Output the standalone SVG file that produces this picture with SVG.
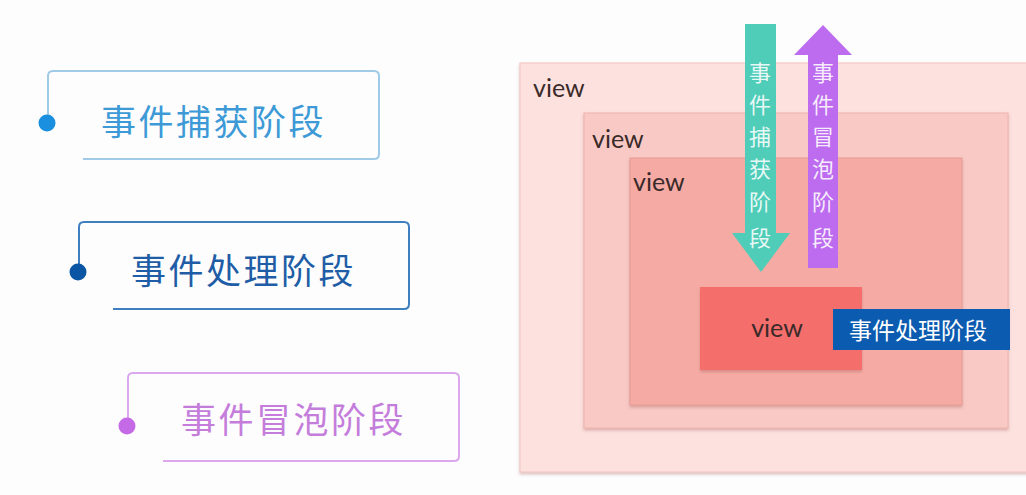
<svg xmlns="http://www.w3.org/2000/svg" width="1026" height="495" viewBox="0 0 1026 495">
<style>
.cjk{font-family:"Noto Sans CJK SC","Noto Sans",sans-serif}
.lbl{font-size:35px;letter-spacing:2.5px}
.vw{font-family:Lato,"Liberation Sans",sans-serif;font-size:25px;fill:#3a2a2a}
.vt{font-size:22px;fill:#ffffff;fill-opacity:0.88;text-anchor:middle}
.card{fill:none;stroke-width:2;stroke-linejoin:round}
</style>
<defs>
<filter id="sh" x="-5%" y="-5%" width="110%" height="115%">
<feDropShadow dx="0" dy="2" stdDeviation="1.5" flood-color="#a05050" flood-opacity="0.35"/>
</filter>
</defs>
<rect width="1026" height="495" fill="#fdfdfd"/>

<g id="card-capture">
<path class="card" d="M48 123 V76 Q48 71 53 71 H374 Q379 71 379 76 V154 Q379 159 374 159 H83" stroke="#9fcbe8"/>
<circle cx="47" cy="123" r="8.5" fill="#1a8fe0"/>
<text class="cjk lbl" x="101" y="135" fill="#3d9ad6">事件捕获阶段</text>
</g>

<g id="card-handle">
<path class="card" d="M79 272 V227 Q79 222 84 222 H404 Q409 222 409 227 V304 Q409 309 404 309 H113" stroke="#3f7fbf"/>
<circle cx="78" cy="272" r="8.5" fill="#0b56a4"/>
<text class="cjk lbl" x="131" y="284" fill="#1f5ea6">事件处理阶段</text>
</g>

<g id="card-bubble">
<path class="card" d="M128 426 V378 Q128 373 133 373 H454 Q459 373 459 378 V456 Q459 461 454 461 H163" stroke="#dba8ee"/>
<circle cx="127" cy="426" r="8.5" fill="#c56ae6"/>
<text class="cjk lbl" x="181" y="433" fill="#c57ddc">事件冒泡阶段</text>
</g>

<g id="view-outer">
<rect x="520" y="63" width="520" height="409" fill="#fde1de" stroke="#f3c3bf" stroke-width="1" filter="url(#sh)"/>
<text class="vw" x="533" y="97">view</text>
</g>
<g id="view-second">
<rect x="584" y="113" width="424" height="315" fill="#f9cac5" stroke="#eeb2ac" stroke-width="1" filter="url(#sh)"/>
<text class="vw" x="592" y="148">view</text>
</g>
<g id="view-third">
<rect x="630" y="158" width="332" height="247" fill="#f5aba4" stroke="#e79a93" stroke-width="1" filter="url(#sh)"/>
<text class="vw" x="633" y="191">view</text>
</g>
<g id="view-target">
<rect x="700" y="287" width="162" height="83" fill="#f46e6c" filter="url(#sh)"/>
<text class="vw" x="777" y="337" text-anchor="middle">view</text>
</g>
<g id="handle-label">
<rect x="833" y="309" width="177" height="41" fill="#0b5cb0"/>
<text class="cjk" x="918" y="339" font-size="23" fill="#ffffff" text-anchor="middle">事件处理阶段</text>
</g>

<g id="connectors">
<g id="arrow-capture">
<path d="M745 24 H776 V233 H790 L761 272 L732 233 H745 Z" fill="#4fcdb8"/>
<text class="cjk vt" x="760" y="81">事</text>
<text class="cjk vt" x="760" y="113">件</text>
<text class="cjk vt" x="760" y="145">捕</text>
<text class="cjk vt" x="760" y="177">获</text>
<text class="cjk vt" x="760" y="210">阶</text>
<text class="cjk vt" x="760" y="246">段</text>
</g>
<g id="arrow-bubble">
<path d="M808 268 V55 H794 L823 25 L852 55 H838 V268 Z" fill="#bd6cef"/>
<text class="cjk vt" x="823" y="81">事</text>
<text class="cjk vt" x="823" y="113">件</text>
<text class="cjk vt" x="823" y="145">冒</text>
<text class="cjk vt" x="823" y="177">泡</text>
<text class="cjk vt" x="823" y="210">阶</text>
<text class="cjk vt" x="823" y="246">段</text>
</g>
</g>
</svg>
